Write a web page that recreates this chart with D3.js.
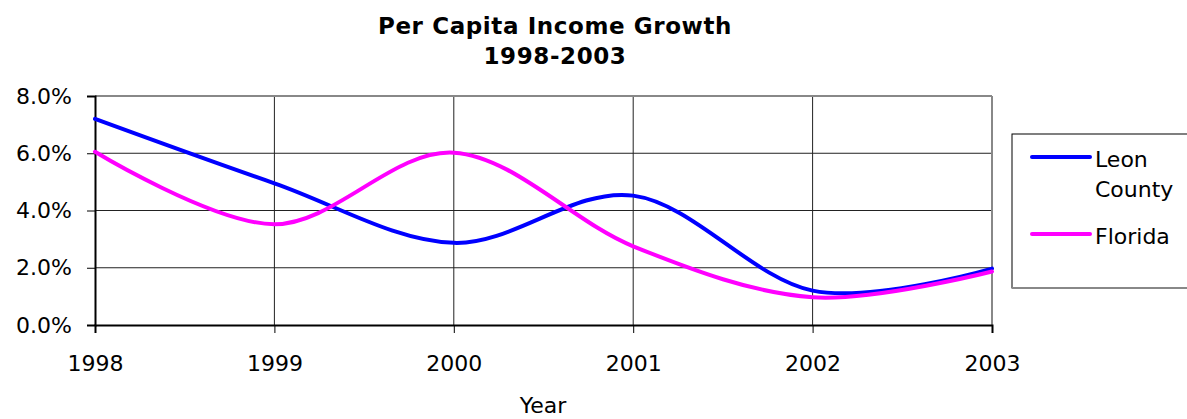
<!DOCTYPE html>
<html>
<head>
<meta charset="utf-8">
<script src="https://cdn.jsdelivr.net/npm/d3@7"></script>
<style>
  body { margin: 0; background: #fff; }
  text { font-family: "DejaVu Sans", Verdana, sans-serif; fill: #000; }
</style>
</head>
<body>
<svg id="chart" width="1187" height="419"></svg>
<script>
var years = [1998, 1999, 2000, 2001, 2002, 2003];
var leonCounty = [7.2, 4.95, 2.87, 4.52, 1.2, 1.97];
var florida = [6.05, 3.52, 6.02, 2.75, 0.97, 1.87];
var yTicks = [0, 2, 4, 6, 8];
var seriesNames = ["Leon County", "Florida"];
var seriesColors = ["#0000ff", "#ff00ff"];

var svg = d3.select("#chart");

var plotLeft = 95, plotRight = 992, plotTop = 96, plotBottom = 325;

var x = d3.scaleLinear().domain([1998, 2003]).range([plotLeft, plotRight]);
var y = d3.scaleLinear().domain([0, 8]).range([plotBottom, plotTop]);

// title
svg.append("text")
    .attr("x", 555).attr("y", 34)
    .attr("text-anchor", "middle")
    .style("font-weight", "bold").style("font-size", "23px")
    .style("letter-spacing", "0.6px")
    .text("Per Capita Income Growth");
svg.append("text")
    .attr("x", 555).attr("y", 64)
    .attr("text-anchor", "middle")
    .style("font-weight", "bold").style("font-size", "23px")
    .style("letter-spacing", "0.6px")
    .text("1998-2003");

// grid lines
svg.append("g").selectAll("line")
    .data(yTicks.slice(1, -1))
    .enter().append("line")
    .attr("x1", plotLeft).attr("x2", plotRight)
    .attr("y1", d => y(d)).attr("y2", d => y(d))
    .attr("stroke", "#222").attr("stroke-width", 1);

svg.append("g").selectAll("line")
    .data(years.slice(1, -1))
    .enter().append("line")
    .attr("x1", d => x(d)).attr("x2", d => x(d))
    .attr("y1", plotTop).attr("y2", plotBottom)
    .attr("stroke", "#222").attr("stroke-width", 1);

// plot border (top and right in gray)
svg.append("line").attr("x1", plotLeft).attr("x2", plotRight).attr("y1", plotTop).attr("y2", plotTop)
    .attr("stroke", "#888").attr("stroke-width", 2);
svg.append("line").attr("x1", plotRight).attr("x2", plotRight).attr("y1", plotTop).attr("y2", plotBottom)
    .attr("stroke", "#888").attr("stroke-width", 2);

// axes
var yAxis = svg.append("g")
    .attr("transform", "translate(" + plotLeft + ",0)")
    .call(d3.axisLeft(y).tickValues(yTicks).tickSize(8).tickPadding(15)
        .tickFormat(d => d.toFixed(1) + "%"));
var xAxis = svg.append("g")
    .attr("transform", "translate(0," + plotBottom + ")")
    .call(d3.axisBottom(x).tickValues(years).tickSize(8).tickPadding(22)
        .tickFormat(d3.format("d")));

[yAxis, xAxis].forEach(function (a) {
    a.select(".domain").attr("stroke", "#000").attr("stroke-width", 2);
    a.selectAll(".tick line").attr("stroke", "#000");
    a.selectAll("text").style("font-size", "22px").attr("fill", "#000");
});

svg.append("text")
    .attr("x", 543).attr("y", 413)
    .attr("text-anchor", "middle")
    .style("font-size", "22px")
    .text("Year");

// lines
var line = d3.line()
    .x((d, i) => x(years[i]))
    .y(d => y(d))
    .curve(d3.curveCatmullRom.alpha(0));

[leonCounty, florida].forEach(function (vals, k) {
    svg.append("path")
        .datum(vals)
        .attr("d", line)
        .attr("fill", "none")
        .attr("stroke", seriesColors[k])
        .attr("stroke-width", 4)
        .attr("stroke-linejoin", "round")
        .attr("stroke-linecap", "round");
});

// legend
var lg = svg.append("g");
lg.append("rect")
    .attr("x", 1012).attr("y", 134)
    .attr("width", 185).attr("height", 154)
    .attr("fill", "#fff").attr("stroke", "#000").attr("stroke-width", 1);
lg.append("line").attr("x1", 1012).attr("x2", 1187).attr("y1", 288).attr("y2", 288)
    .attr("stroke", "#888").attr("stroke-width", 2);

var legendRows = [157, 234];
seriesNames.forEach(function (name, k) {
    lg.append("line")
        .attr("x1", 1032).attr("x2", 1090)
        .attr("y1", legendRows[k]).attr("y2", legendRows[k])
        .attr("stroke", seriesColors[k]).attr("stroke-width", 4)
        .attr("stroke-linecap", "round");
    var t = lg.append("text")
        .attr("x", 1095).attr("y", legendRows[k] + 10)
        .style("font-size", "22px");
    var words = k === 0 ? ["Leon", "County"] : [name];
    words.forEach(function (w, j) {
        t.append("tspan").attr("x", 1095).attr("dy", j === 0 ? 0 : 30).text(w);
    });
});
</script>
</body>
</html>
